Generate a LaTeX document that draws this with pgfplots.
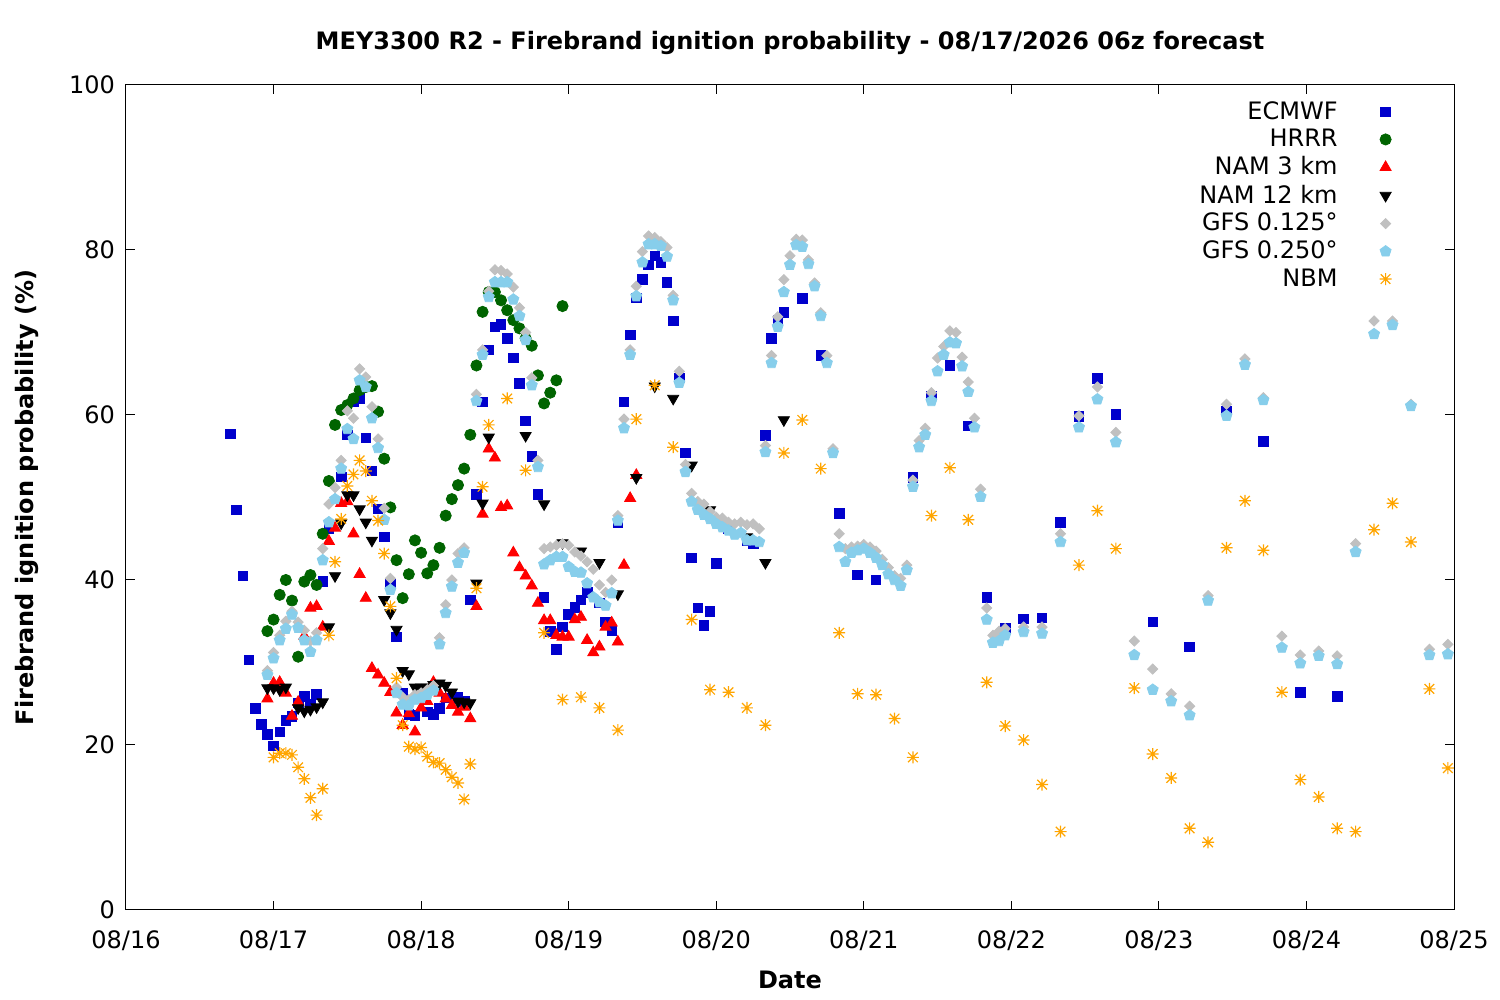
\documentclass[border=0pt]{standalone}
\usepackage{fontspec}
\setmainfont{DejaVu Sans}
\usepackage{pgfplots}
\pgfplotsset{compat=1.18}
\definecolor{ecblue}{RGB}{0,0,204}
\definecolor{hrrrgreen}{RGB}{0,100,0}
\definecolor{gfsgray}{RGB}{192,192,192}
\definecolor{gfsblue}{RGB}{135,206,235}
\definecolor{nbmorange}{RGB}{255,165,0}
\pgfdeclareplotmark{gpstar}{%
 \pgfpathmoveto{\pgfqpoint{-\pgfplotmarksize}{0pt}}\pgfpathlineto{\pgfqpoint{\pgfplotmarksize}{0pt}}%
 \pgfpathmoveto{\pgfqpoint{0pt}{-\pgfplotmarksize}}\pgfpathlineto{\pgfqpoint{0pt}{\pgfplotmarksize}}%
 \pgfpathmoveto{\pgfqpoint{-0.8\pgfplotmarksize}{-0.8\pgfplotmarksize}}\pgfpathlineto{\pgfqpoint{0.8\pgfplotmarksize}{0.8\pgfplotmarksize}}%
 \pgfpathmoveto{\pgfqpoint{-0.8\pgfplotmarksize}{0.8\pgfplotmarksize}}\pgfpathlineto{\pgfqpoint{0.8\pgfplotmarksize}{-0.8\pgfplotmarksize}}%
 \pgfusepathqstroke}
\begin{document}
\begin{tikzpicture}
\useasboundingbox (-63pt,-45pt) rectangle (687pt,455pt);
\begin{axis}[
 at={(0,0)}, anchor=south west,
 scale only axis, width=664pt, height=412.5pt,
 xmin=0, xmax=216, ymin=0, ymax=100,
 xtick={0,24,48,72,96,120,144,168,192,216},
 xticklabels={08/16,08/17,08/18,08/19,08/20,08/21,08/22,08/23,08/24,08/25},
 ytick={0,20,40,60,80,100},
 tick align=inside, major tick length=4.5pt,
 tick style={black, line width=0.5pt},
 axis line style={line width=0.5pt},
 ticklabel style={font=\fontsize{12}{14}\selectfont},
 /pgf/number format/assume math mode=true,
 xticklabel style={yshift=-7pt},
 yticklabel style={xshift=-2pt},
 clip=false,
 legend plot pos=right, legend cell align=right,
 legend style={at={(1,1)}, anchor=north east, xshift=-31pt, yshift=-7pt, draw=none, fill=none, inner sep=0pt, column sep=20pt, row sep=1.5pt, font=\fontsize{12}{14}\selectfont, nodes={inner sep=1pt}},
]
\addplot[only marks, mark=square*, mark size=2.4pt, color=ecblue] coordinates {
(17,57.7)(18,48.5)(19,40.5)(20,30.3)(21,24.4)(22,22.5)(23,21.3)(24,19.9)(25,21.6)(26,23)(27,23.5)(28,25.1)(29,25.9)(30,25)(31,26.1)(32,39.8)(33,46.2)(35,52.5)(36,57.6)(37,61.6)(38,62)(39,57.2)(40,53.2)(41,48.6)(42,45.2)(43,39.5)(44,33.1)(45,26.3)(46,23.7)(47,23.6)(49,24)(50,23.7)(51,24.4)(52,25.7)(54,25.8)(55,25.3)(56,37.6)(57,50.4)(58,61.6)(59,67.9)(60,70.7)(61,71)(62,69.3)(63,66.9)(64,63.8)(65,59.3)(66,55)(67,50.4)(68,37.9)(69,33.8)(70,31.6)(71,34.3)(72,35.8)(73,36.7)(74,37.6)(75,38.5)(77,37.2)(78,34.9)(79,33.9)(80,46.9)(81,61.6)(82,69.7)(83,74.2)(84,76.4)(85,78.2)(86,79.3)(87,78.5)(88,76.1)(89,71.4)(90,64.5)(91,55.4)(92,42.7)(93,36.6)(94,34.5)(95,36.2)(96,42)(98,46.2)(101,44.8)(102,44.4)(104,57.5)(105,69.3)(106,71.5)(107,72.4)(110,74.1)(113,67.2)(116,48.1)(119,40.6)(122,40)(128,52.4)(131,62.3)(134,66)(137,58.7)(140,37.9)(143,34.2)(146,35.3)(149,35.4)(152,47)(155,59.8)(158,64.4)(161,60.1)(167,34.9)(173,31.9)(179,60.5)(185,56.8)(191,26.4)(197,25.9)
};
\addlegendentry{ECMWF}
\addplot[only marks, mark=*, mark size=2.8pt, color=hrrrgreen] coordinates {
(23,33.8)(24,35.2)(25,38.2)(26,40)(27,37.5)(28,30.7)(29,39.8)(30,40.6)(31,39.4)(32,45.6)(33,52)(34,58.8)(35,60.6)(36,61.2)(37,62)(38,63)(39,63.4)(40,63.5)(41,60.4)(42,54.7)(43,48.8)(44,42.4)(45,37.8)(46,40.7)(47,44.8)(48,43.3)(49,40.8)(50,41.8)(51,43.9)(52,47.8)(53,49.8)(54,51.5)(55,53.5)(56,57.6)(57,66)(58,72.5)(59,74.9)(60,74.9)(61,73.9)(62,72.7)(63,71.5)(64,70.5)(65,69.3)(66,68.4)(67,64.8)(68,61.4)(69,62.7)(70,64.2)(71,73.2)
};
\addlegendentry{HRRR}
\addplot[only marks, mark=triangle*, mark size=3.2pt, color=red] coordinates {
(23,25.6)(24,27.5)(25,27.6)(26,26.3)(27,23.5)(28,25.2)(29,33.2)(30,36.6)(31,36.8)(32,34.3)(33,44.7)(34,46.3)(35,49.3)(36,49.5)(37,45.6)(38,40.7)(39,37.8)(40,29.3)(41,28.5)(42,27.5)(43,26.4)(44,23.9)(45,22.4)(46,23.8)(47,21.6)(48,24.5)(49,25.3)(50,27.6)(51,26.3)(52,25.6)(53,24.8)(54,24)(55,24.6)(56,23.2)(57,36.8)(58,48)(59,55.9)(60,54.8)(61,48.8)(62,49)(63,43.3)(64,41.5)(65,40.5)(66,39.3)(67,37.2)(68,35.1)(69,35.1)(70,33.3)(71,33.1)(72,33.1)(73,35.2)(74,35.5)(75,32.7)(76,31.2)(77,31.9)(78,34.3)(79,34.8)(80,32.5)(81,41.8)(82,49.9)(83,52.7)
};
\addlegendentry{NAM 3 km}
\addplot[only marks, mark=triangle*, mark size=3.2pt, mark options={rotate=180}, color=black] coordinates {
(23,26.9)(24,26.9)(25,26.7)(26,27)(28,24.5)(29,24.1)(30,24.3)(31,24.6)(32,25.2)(33,34.3)(34,40.5)(35,46.9)(36,50.3)(37,50.3)(38,48.6)(39,47)(40,44.8)(42,37.6)(43,36)(44,34)(45,29)(46,28.6)(47,27)(48,27)(49,27)(50,27.3)(51,27.5)(52,27.2)(53,26.4)(54,25.3)(55,25.2)(56,25.1)(57,39.6)(58,49.3)(59,57.3)(65,57.5)(68,49.2)(71,44.5)(74,43.5)(77,42.1)(80,38.3)(83,52.4)(86,63.5)(89,62)(92,53.9)(95,48.5)(101,45.2)(104,42.1)(107,59.4)
};
\addlegendentry{NAM 12 km}
\addplot[only marks, mark=square*, mark size=1.8pt, mark options={rotate=45}, color=gfsgray] coordinates {
(23,29)(24,31.2)(25,33.3)(26,35)(27,36.2)(28,34.9)(29,33.9)(30,32.6)(31,33.6)(32,43.8)(33,49.2)(34,51.2)(35,54.5)(36,60.5)(37,59.6)(38,65.6)(39,64.6)(40,61)(41,57.1)(42,48.7)(43,40.2)(44,27)(45,25.8)(46,25.5)(47,26.1)(48,26.3)(49,26.7)(50,27.2)(51,33)(52,37)(53,40)(54,43.2)(55,43.9)(57,62.5)(58,67.9)(59,75)(60,77.6)(61,77.5)(62,77.1)(63,75.5)(64,73)(65,70)(66,64.5)(67,54.5)(68,43.8)(69,44)(70,44.2)(71,44.4)(72,44.2)(73,43.4)(74,42.9)(75,42.2)(76,41.3)(77,39.4)(78,38.5)(79,40)(80,47.8)(81,59.5)(82,67.9)(83,75.6)(84,79.8)(85,81.7)(86,81.5)(87,81)(88,80.3)(89,74.5)(90,65.3)(91,54)(92,50.5)(93,49.5)(94,49.2)(95,48.3)(96,47.6)(97,47.5)(98,47)(99,46.8)(100,47)(101,46.7)(102,46.8)(103,46.2)(104,56.3)(105,67.2)(106,71.9)(107,76.4)(108,79.3)(109,81.3)(110,81.2)(111,78.8)(112,76)(113,72.4)(114,67.2)(115,55.9)(116,45.6)(117,43.8)(118,44)(119,44.1)(120,44.3)(121,44)(122,43.5)(123,42.5)(124,41.5)(125,40.5)(126,40.2)(127,41.8)(128,52.1)(129,56.9)(130,58.4)(131,62.7)(132,66.9)(133,68.3)(134,70.2)(135,70)(136,67)(137,64)(138,59.6)(139,51)(140,36.6)(141,33.3)(142,33.8)(143,34.1)(146,34.3)(149,34.3)(152,45.6)(155,59.9)(158,63.4)(161,57.9)(164,32.6)(167,29.2)(170,26.2)(173,24.7)(176,38.1)(179,61.3)(182,66.8)(185,62.1)(188,33.2)(191,30.9)(194,31.4)(197,30.8)(200,44.4)(203,71.4)(206,71.4)(209,61.3)(212,31.6)(215,32.2)
};
\addlegendentry{GFS 0.125°}
\addplot[only marks, mark=pentagon*, mark size=2.9pt, color=gfsblue] coordinates {
(23,28.5)(24,30.5)(25,32.7)(26,34.1)(27,35.8)(28,34.2)(29,32.7)(30,31.3)(31,32.7)(32,42.4)(33,47)(34,49.8)(35,53.5)(36,58.3)(37,57.1)(38,64.2)(39,63.4)(40,59.6)(41,56)(42,47.3)(43,38.8)(44,26.3)(45,24.9)(46,24.8)(47,25.5)(48,25.7)(49,26.1)(50,26.6)(51,32.2)(52,36)(53,39.2)(54,42.1)(55,43.3)(57,61.7)(58,67.3)(59,74.3)(60,76.1)(61,76.1)(62,76.1)(63,74)(64,72)(65,69.1)(66,63.6)(67,53.7)(68,41.9)(69,42.4)(70,42.8)(71,42.8)(72,41.6)(73,41)(74,40.9)(75,39.6)(76,37.9)(77,37.3)(78,36.9)(79,38.4)(80,47.2)(81,58.4)(82,67.3)(83,74.4)(84,78.5)(85,80.7)(86,80.7)(87,80.5)(88,79.2)(89,73.9)(90,63.9)(91,53.1)(92,49.5)(93,48.5)(94,47.9)(95,47.4)(96,46.8)(97,46.4)(98,46)(99,45.5)(100,45.7)(101,44.8)(102,44.8)(103,44.6)(104,55.5)(105,66.3)(106,70.7)(107,74.9)(108,78.2)(109,80.6)(110,80.4)(111,78.3)(112,75.6)(113,72)(114,66.3)(115,55.4)(116,44)(117,42.2)(118,43.3)(119,43.6)(120,43.8)(121,43.3)(122,42.7)(123,41.8)(124,40.7)(125,40)(126,39.3)(127,41.2)(128,51.3)(129,56.1)(130,57.6)(131,61.7)(132,65.3)(133,67.3)(134,68.8)(135,68.7)(136,65.9)(137,62.8)(138,58.5)(139,50.1)(140,35.2)(141,32.4)(142,32.6)(143,33.3)(146,33.7)(149,33.5)(152,44.6)(155,58.5)(158,61.9)(161,56.7)(164,30.9)(167,26.7)(170,25.3)(173,23.6)(176,37.5)(179,59.9)(182,66.1)(185,61.8)(188,31.8)(191,29.9)(194,30.8)(197,29.8)(200,43.4)(203,69.8)(206,70.9)(209,61.1)(212,30.9)(215,31)
};
\addlegendentry{GFS 0.250°}
\addplot[only marks, mark=gpstar, mark size=3pt, mark options={line width=0.6pt}, color=nbmorange] coordinates {
(24,18.5)(25,19)(26,19)(27,18.8)(28,17.3)(29,15.9)(30,13.6)(31,11.5)(32,14.7)(33,33.3)(34,42.2)(35,47.4)(36,51.4)(37,52.8)(38,54.5)(39,53.2)(40,49.6)(41,47.2)(42,43.2)(43,36.8)(44,28.1)(45,22.4)(46,19.8)(47,19.5)(48,19.7)(49,18.6)(50,17.9)(51,17.8)(52,17)(53,16.1)(54,15.4)(55,13.4)(56,17.7)(57,39)(58,51.3)(59,58.8)(62,62)(65,53.3)(68,33.6)(71,25.5)(74,25.8)(77,24.5)(80,21.8)(83,59.5)(86,63.6)(89,56.1)(92,35.2)(95,26.7)(98,26.4)(101,24.5)(104,22.4)(107,55.4)(110,59.4)(113,53.5)(116,33.6)(119,26.2)(122,26.1)(125,23.2)(128,18.5)(131,47.8)(134,53.6)(137,47.3)(140,27.6)(143,22.3)(146,20.6)(149,15.2)(152,9.5)(155,41.8)(158,48.4)(161,43.8)(164,26.9)(167,18.9)(170,16)(173,9.9)(176,8.2)(179,43.9)(182,49.6)(185,43.6)(188,26.4)(191,15.8)(194,13.7)(197,9.9)(200,9.5)(203,46.1)(206,49.3)(209,44.6)(212,26.8)(215,17.2)
};
\addlegendentry{NBM}
\end{axis}
\node[font=\bfseries\fontsize{12}{14}\selectfont] at (332pt,433.5pt) {MEY3300 R2 - Firebrand ignition probability - 08/17/2026 06z forecast};
\node[font=\bfseries\fontsize{12}{14}\selectfont, rotate=90] at (-49.5pt,206.25pt) {Firebrand ignition probability (\%)};
\node[font=\bfseries\fontsize{12}{14}\selectfont] at (332pt,-35pt) {Date};
\end{tikzpicture}
\end{document}
